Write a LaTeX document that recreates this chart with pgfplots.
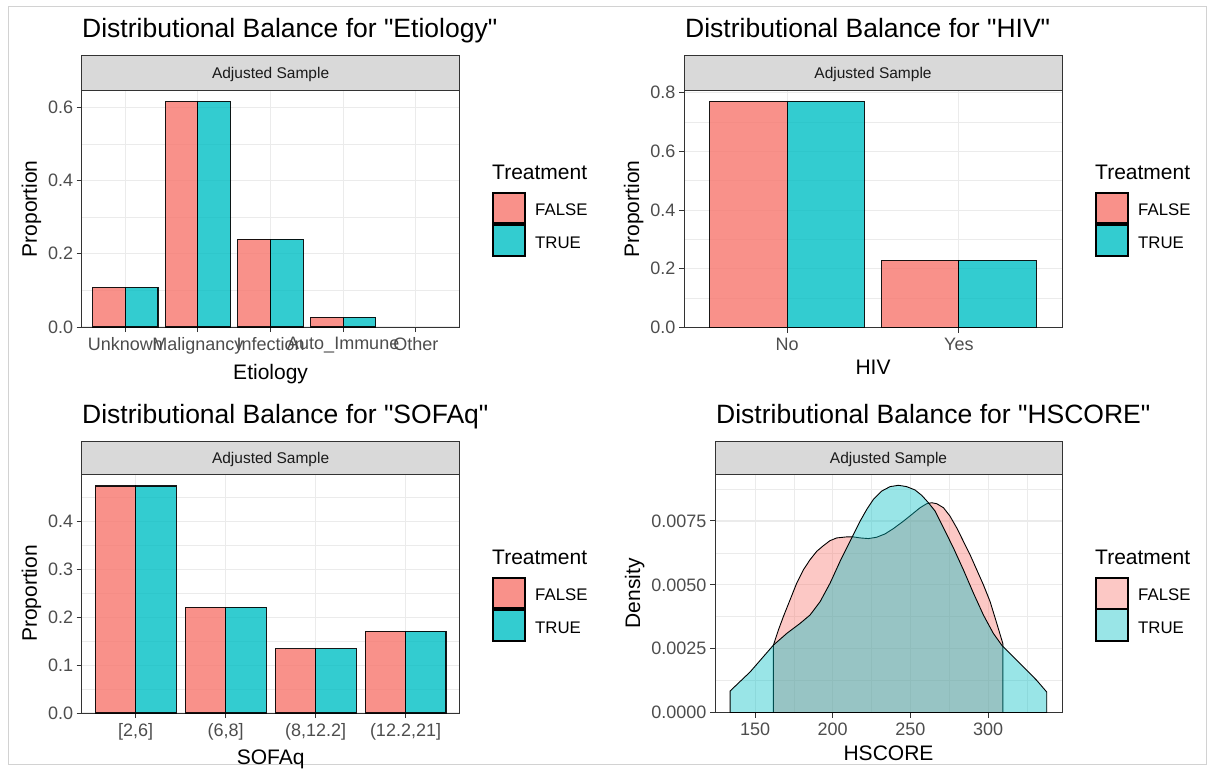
\documentclass[border=0pt]{standalone}
\usepackage{fontspec}
\setmainfont{Liberation Sans}[Ligatures=TeXOff]
\usepackage{pgfplots}
\pgfplotsset{compat=1.18}
\definecolor{ggred}{HTML}{F8766D}
\definecolor{ggteal}{HTML}{00BFC4}
\definecolor{gray10}{HTML}{1A1A1A}
\definecolor{gray20}{HTML}{333333}
\definecolor{gray30}{HTML}{4D4D4D}
\definecolor{gray85}{HTML}{D9D9D9}
\definecolor{gray92}{HTML}{EBEBEB}

\newcommand\ticksize{\fontsize{18}{20}\selectfont}
\newcommand\legsize{\fontsize{16.8}{19}\selectfont}
\newcommand\labsize{\fontsize{21}{24}\selectfont}
\newcommand\titlesize{\fontsize{26.5}{30}\selectfont}
\newcommand\stripsize{\fontsize{15.5}{17}\selectfont}

\pgfplotsset{
  ggpanel/.style={
    scale only axis, anchor=south west,
    axis line style={gray20, line width=1pt},
    grid=both,
    major grid style={gray92, line width=1.1pt},
    minor grid style={gray92, line width=0.55pt},
    tick style={gray20, line width=1pt},
    major tick length=5pt, minor tick length=0pt,
    tick align=outside, tick pos=left,
    tick label style={font=\ticksize, color=gray30},
    xticklabel style={yshift=-2pt},
    label style={font=\labsize},
    xlabel style={yshift=-3pt},
    /pgf/number format/assume math mode=true,
  },
  ggbar/.style={ybar, bar width=0.45, draw=black, line width=1.1pt,
    fill opacity=0.8, draw opacity=0.9},
  ggdens/.style={draw=black, line width=0.9pt, fill opacity=0.4, draw opacity=1},
}

% strip: x1 x2 ytop ybottom (pixels, y down)
\newcommand{\ggstrip}[4]{%
  \filldraw[fill=gray85, draw=gray20, line width=1pt] (#1pt,-#3pt) rectangle (#2pt,-#4pt);
  \node[font=\stripsize, color=gray10] at ({(#1+#2)/2*1pt},{-((#3+#4)/2+1.5)*1pt}) {Adjusted Sample};}

% legend: x shift, y shift, opacity, gap between keys
\newcommand{\gglegend}[4]{%
  \begin{scope}[shift={(#1pt,-#2pt)}]
    \node[anchor=west, font=\labsize, inner sep=0pt] at (492pt,-172pt) {Treatment};
    \filldraw[fill=ggred, fill opacity=#3, draw=black, line width=1.2pt]
      (493pt,-193pt) rectangle (525pt,{-(224-#4/2)*1pt});
    \filldraw[fill=ggteal, fill opacity=#3, draw=black, line width=1.2pt]
      (493pt,{-(224+#4/2)*1pt}) rectangle (525pt,-256pt);
    \node[anchor=west, font=\legsize, inner sep=0pt] at (535pt,-210pt) {FALSE};
    \node[anchor=west, font=\legsize, inner sep=0pt] at (535pt,-243pt) {TRUE};
  \end{scope}}

\begin{document}
\begin{tikzpicture}
\path[use as bounding box] (0pt,0pt) rectangle (1213pt,-770pt);
\draw[gray!35, line width=1pt] (8pt,-7pt) rectangle (1206pt,-764pt);

% ---------- Etiology ----------
\begin{axis}[ggpanel, at={(81.7pt,-327pt)}, width=377.8pt, height=236.5pt,
  xmin=0.4, xmax=5.6, ymin=0, ymax=0.6455,
  xtick={1,...,5}, xticklabels={Unknown,Malignancy,Infection,Auto\_Immune,Other},
  minor xtick={},
  ytick={0,0.2,0.4,0.6}, minor ytick={0.1,0.3,0.5},
  yticklabel style={/pgf/number format/.cd, fixed, fixed zerofill, precision=1},
  xlabel={Etiology}, ylabel={Proportion}]
% "Other" has proportion 0 and draws no bar
\addplot[ggbar, fill=ggred, bar shift=-0.225] coordinates
  {(1,0.108) (2,0.616) (3,0.240) (4,0.027)};
\addplot[ggbar, fill=ggteal, bar shift=0.225] coordinates
  {(1,0.108) (2,0.616) (3,0.240) (4,0.027)};
\end{axis}

% ---------- HIV ----------
\begin{axis}[ggpanel, at={(684pt,-327.5pt)}, width=378pt, height=237pt,
  xmin=0.4, xmax=2.6, ymin=0, ymax=0.8075,
  xtick={1,2}, xticklabels={No,Yes}, minor xtick={},
  ytick={0,0.2,0.4,0.6,0.8}, minor ytick={0.1,0.3,0.5,0.7},
  yticklabel style={/pgf/number format/.cd, fixed, fixed zerofill, precision=1},
  xlabel={HIV}, ylabel={Proportion}]
\addplot[ggbar, fill=ggred, bar shift=-0.225] coordinates {(1,0.771) (2,0.229)};
\addplot[ggbar, fill=ggteal, bar shift=0.225] coordinates {(1,0.771) (2,0.229)};
\end{axis}

% ---------- SOFAq ----------
\begin{axis}[ggpanel, at={(81.7pt,-713pt)}, width=377.8pt, height=239pt,
  xmin=0.4, xmax=4.6, ymin=0, ymax=0.499,
  xtick={1,...,4}, xticklabels={{[2,6]},{(6,8]},{(8,12.2]},{(12.2,21]}},
  minor xtick={},
  ytick={0,0.1,0.2,0.3,0.4}, minor ytick={0.05,0.15,0.25,0.35,0.45},
  yticklabel style={/pgf/number format/.cd, fixed, fixed zerofill, precision=1},
  xlabel={SOFAq}, ylabel={Proportion}]
\addplot[ggbar, fill=ggred, bar shift=-0.225] coordinates
  {(1,0.474) (2,0.221) (3,0.134) (4,0.171)};
\addplot[ggbar, fill=ggteal, bar shift=0.225] coordinates
  {(1,0.474) (2,0.221) (3,0.134) (4,0.171)};
\end{axis}

% ---------- HSCORE density ----------
\begin{axis}[ggpanel, at={(715pt,-712.5pt)}, width=347pt, height=238.5pt,
  xmin=124.2, xmax=347.6, ymin=0, ymax=0.00934,
  xtick={150,200,250,300}, minor xtick={175,225,275,325},
  ytick={0,0.0025,0.005,0.0075}, minor ytick={0.00125,0.00375,0.00625,0.00875},
  scaled y ticks=false,
  yticklabel style={/pgf/number format/.cd, fixed, fixed zerofill, precision=4},
  xlabel={HSCORE}, ylabel={Density}]
\addplot[ggdens, fill=ggred] coordinates {
  (161.8,0) (161.8,0.002638) (165.0,0.003228) (168.2,0.003753) (172.5,0.004409)
  (176.8,0.005066) (181.1,0.005590) (185.4,0.005984) (189.7,0.006312)
  (194.0,0.006535) (198.3,0.006732) (202.6,0.006837) (209.0,0.006877)
  (213.3,0.006877) (217.6,0.006837) (223.0,0.006811) (228.3,0.006864)
  (233.7,0.006995) (239.1,0.007205) (245.5,0.007493) (250.9,0.007756)
  (256.2,0.008018) (260.5,0.008176) (263.7,0.008215) (267.0,0.008176)
  (271.3,0.008018) (275.5,0.007690) (279.8,0.007231) (284.1,0.006706)
  (288.4,0.006181) (292.7,0.005590) (297.0,0.005000) (301.3,0.004344)
  (305.6,0.003491) (309.5,0.002703) (309.5,0)} -- cycle;
\addplot[ggdens, fill=ggteal] coordinates {
  (133.9,0) (133.9,0.000840) (146.8,0.001588) (161.8,0.002638) (170.4,0.003097)
  (179.0,0.003491) (185.4,0.003819) (191.9,0.004344) (198.3,0.005066)
  (204.7,0.005918) (209.0,0.006444) (213.3,0.006968) (217.6,0.007493)
  (221.9,0.007953) (226.2,0.008346) (231.6,0.008674) (236.9,0.008845)
  (242.3,0.008898) (247.6,0.008845) (253.0,0.008714) (257.3,0.008504)
  (261.6,0.008215) (265.9,0.007887) (271.3,0.007231) (277.7,0.006444)
  (284.1,0.005590) (290.6,0.004672) (297.0,0.003819) (303.4,0.003097)
  (308.8,0.002638) (316.3,0.002178) (324.9,0.001654) (331.3,0.001260)
  (337.8,0.000800) (337.8,0)} -- cycle;
\end{axis}

% strips
\ggstrip{81.7}{459.5}{55.5}{90.5}
\ggstrip{684}{1062}{55.5}{90.5}
\ggstrip{81.7}{459.5}{441.5}{474}
\ggstrip{715}{1062}{441.5}{474}

% titles
\node[anchor=base west, font=\titlesize, inner sep=0pt] at (82pt,-38pt) {Distributional Balance for "Etiology"};
\node[anchor=base west, font=\titlesize, inner sep=0pt] at (685pt,-38pt) {Distributional Balance for "HIV"};
\node[anchor=base west, font=\titlesize, inner sep=0pt] at (82pt,-423pt) {Distributional Balance for "SOFAq"};
\node[anchor=base west, font=\titlesize, inner sep=0pt] at (716pt,-423pt) {Distributional Balance for "HSCORE"};

% legends
\gglegend{0}{0}{0.8}{2}
\gglegend{603}{0}{0.8}{2}
\gglegend{0}{385}{0.8}{2}
\gglegend{603}{385}{0.4}{0}
\end{tikzpicture}
\end{document}
